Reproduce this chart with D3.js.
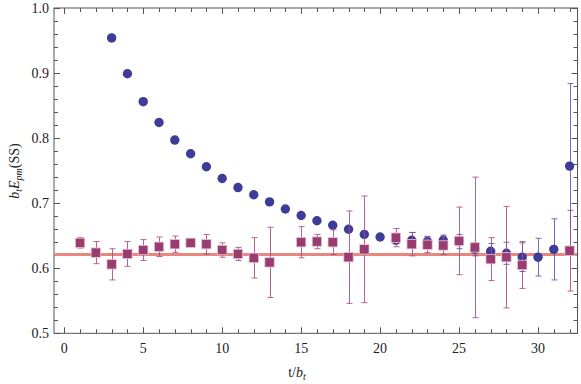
<!DOCTYPE html>
<html>
<head>
<meta charset="utf-8">
<script src="https://cdn.jsdelivr.net/npm/d3@7"></script>
<style>
  body { margin: 0; background: #fff; }
</style>
</head>
<body>
<script>
// SS data
let blueT = [3,4,5,6,7,8,9,10,11,12,13,14,15,16,17,18,19,20,21,22,23,24,25,26,27,28,29,30,31,32];
let blueV = [0.954,0.899,0.856,0.824,0.797,0.776,0.756,0.738,0.724,0.713,0.702,0.691,0.681,0.673,0.666,0.660,0.652,0.648,0.643,0.643,0.641,0.643,0.641,0.629,0.626,0.623,0.617,0.617,0.629,0.757];
let blueErr = [0.002,0.002,0.002,0.002,0.002,0.002,0.002,0.002,0.002,0.002,0.002,0.002,0.002,0.002,0.003,0.003,0.003,0.003,0.005,0.012,0.008,0.008,0.011,0.01,0.012,0.017,0.022,0.029,0.047,0.127];

let purpT = [1,2,3,4,5,6,7,8,9,10,11,12,13,15,16,17,18,19,21,22,23,24,25,26,27,28,29,32];
let purpV = [0.639,0.624,0.606,0.622,0.628,0.633,0.637,0.639,0.637,0.628,0.622,0.616,0.609,0.640,0.641,0.640,0.617,0.629,0.647,0.637,0.636,0.635,0.642,0.632,0.614,0.617,0.605,0.627];
let purpErr = [0.008,0.017,0.024,0.019,0.016,0.015,0.0125,0.006,0.015,0.011,0.010,0.031,0.054,0.024,0.011,0.019,0.071,0.082,0.014,0.018,0.012,0.014,0.052,0.108,0.033,0.078,0.036,0.062];

let fitValue = 0.621;
let xTicks = [0,5,10,15,20,25,30];
let yTicks = [0.5,0.6,0.7,0.8,0.9,1.0];

let W = 581, H = 384;
let mLeft = 54, mRight = 577.5, mTop = 8, mBottom = 333.3;
let serif = "'Liberation Serif', 'Times New Roman', Times, serif";

let svg = d3.select("body").append("svg")
    .attr("width", W)
    .attr("height", H)
    .attr("font-family", serif);

let x = d3.scaleLinear().domain([-0.65, 32.5]).range([mLeft, mRight]);
let y = d3.scaleLinear().domain([0.5, 1.0]).range([mBottom, mTop]);

let frameColor = "#555";

// frame
svg.append("rect")
    .attr("x", mLeft).attr("y", mTop)
    .attr("width", mRight - mLeft).attr("height", mBottom - mTop)
    .attr("fill", "none").attr("stroke", frameColor).attr("stroke-width", 1);

// ticks, pointing inward on all four sides
let xMinor = d3.range(0, 33);
xMinor.forEach((t) => {
    let len = t % 5 === 0 ? 6 : 4;
    let px = Math.round(x(t)) + 0.5;
    svg.append("line").attr("x1", px).attr("x2", px)
        .attr("y1", mBottom).attr("y2", mBottom - len)
        .attr("stroke", frameColor);
    svg.append("line").attr("x1", px).attr("x2", px)
        .attr("y1", mTop).attr("y2", mTop + len)
        .attr("stroke", frameColor);
});

let yMinor = d3.range(0, 26).map((i) => 0.5 + i * 0.02);
yMinor.forEach((v, i) => {
    let len = i % 5 === 0 ? 6 : 4;
    let py = Math.round(y(v)) + 0.5;
    svg.append("line").attr("x1", mLeft).attr("x2", mLeft + len)
        .attr("y1", py).attr("y2", py).attr("stroke", frameColor);
    svg.append("line").attr("x1", mRight).attr("x2", mRight - len)
        .attr("y1", py).attr("y2", py).attr("stroke", frameColor);
});

// tick labels
svg.selectAll(".xl").data(xTicks).enter().append("text")
    .attr("x", (d) => x(d))
    .attr("y", 353)
    .attr("text-anchor", "middle")
    .attr("font-size", 14)
    .attr("fill", "#222")
    .text((d) => d);

svg.selectAll(".yl").data(yTicks).enter().append("text")
    .attr("x", 49)
    .attr("y", (d) => y(d) + 4.5)
    .attr("text-anchor", "end")
    .attr("font-size", 14)
    .attr("fill", "#222")
    .text((d) => d.toFixed(1));

// axis titles
let xt = svg.append("text")
    .attr("x", 297).attr("y", 377)
    .attr("text-anchor", "middle")
    .attr("font-size", 14)
    .attr("fill", "#222");
xt.append("tspan").text("t/");
xt.append("tspan").attr("font-style", "italic").text("b");
xt.append("tspan").attr("font-style", "italic").attr("font-size", 10).attr("dy", 3).text("t");

let yt = svg.append("text")
    .attr("transform", "translate(19,171) rotate(-90)")
    .attr("text-anchor", "middle")
    .attr("font-size", 14)
    .attr("fill", "#222");
yt.append("tspan").attr("font-style", "italic").text("b");
yt.append("tspan").attr("font-style", "italic").attr("font-size", 10).attr("dy", 3).text("t");
yt.append("tspan").attr("font-style", "italic").attr("dy", -3).text("E");
yt.append("tspan").attr("font-style", "italic").attr("font-size", 10).attr("dy", 3).text("pm");
yt.append("tspan").attr("dy", -3).text("(SS)");

// fit line
svg.append("line")
    .attr("x1", mLeft + 0.5).attr("x2", mRight - 0.5)
    .attr("y1", y(fitValue)).attr("y2", y(fitValue))
    .attr("stroke", "#e8877f")
    .attr("stroke-width", 3);

let blueColor = "#3d3d99";
let purpColor = "#993d71";

function errorBars(ts, vs, es, color) {
    ts.forEach((t, i) => {
        let px = Math.round(x(t)) + 0.5;
        let y1 = y(vs[i] + es[i]), y2 = y(vs[i] - es[i]);
        let g = svg.append("g").attr("stroke", color).attr("stroke-width", 1).attr("opacity", 0.85);
        g.append("line").attr("x1", px).attr("x2", px).attr("y1", y1).attr("y2", y2);
        g.append("line").attr("x1", px - 3).attr("x2", px + 3).attr("y1", y1).attr("y2", y1);
        g.append("line").attr("x1", px - 3).attr("x2", px + 3).attr("y1", y2).attr("y2", y2);
    });
}

errorBars(blueT, blueV, blueErr, "#5555aa");

// blue circles
svg.selectAll(".bc").data(blueT).enter().append("circle")
    .attr("cx", (d) => x(d))
    .attr("cy", (d, i) => y(blueV[i]))
    .attr("r", 4.7)
    .attr("fill", blueColor);

errorBars(purpT, purpV, purpErr, "#a8497f");

// purple squares
svg.selectAll(".ps").data(purpT).enter().append("rect")
    .attr("x", (d) => x(d) - 4.7)
    .attr("y", (d, i) => y(purpV[i]) - 4.7)
    .attr("width", 9.4)
    .attr("height", 9.4)
    .attr("fill", purpColor)
    .attr("stroke", "#e6c4d6")
    .attr("stroke-width", 0.8);
</script>
</body>
</html>
